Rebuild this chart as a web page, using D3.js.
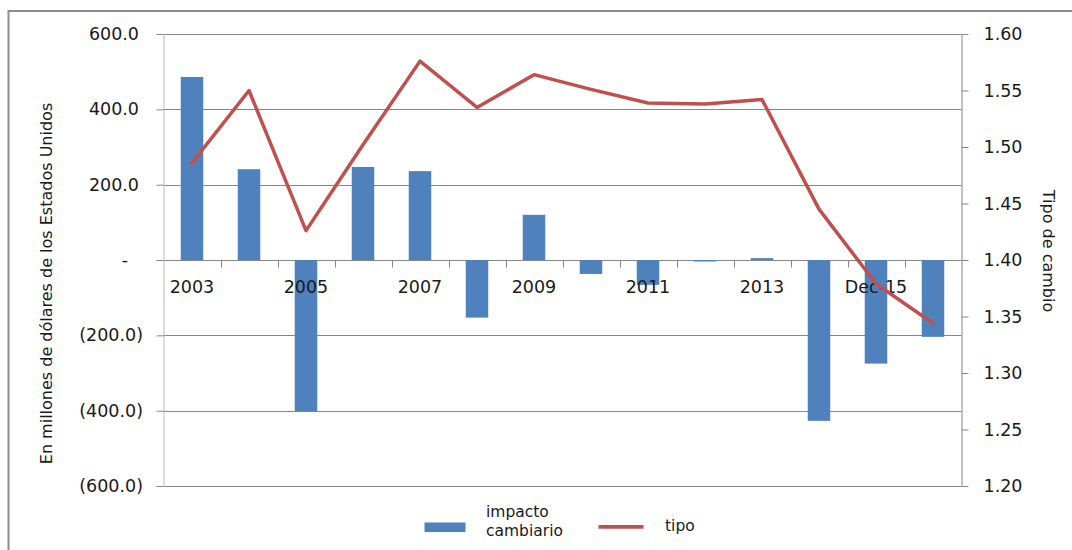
<!DOCTYPE html>
<html>
<head>
<meta charset="utf-8">
<script src="https://cdn.jsdelivr.net/npm/d3@7/dist/d3.min.js"></script>
<style>
  html, body { margin: 0; padding: 0; background: #fff; }
  svg { display: block; font-family: "DejaVu Sans", Verdana, sans-serif; }
</style>
</head>
<body>
<div id="chart"></div>
<script>
// categories and series
var years = ['2003', '2004', '2005', '2006', '2007', '2008', '2009', '2010',
  '2011', '2012', '2013', '2014', 'Dec-15', '2016'];
var impacto = [486, 241, -401, 247, 236, -153, 120, -37, -66, -4, 5, -427, -275, -204];
var tipo = [1.486, 1.550, 1.426, 1.502, 1.576, 1.535, 1.564, 1.551, 1.539, 1.538,
  1.542, 1.445, 1.379, 1.344];
var leftTicks = [-600, -400, -200, 0, 200, 400, 600];
var rightTicks = [1.20, 1.25, 1.30, 1.35, 1.40, 1.45, 1.50, 1.55, 1.60];

var W = 1072, H = 550;
var plot = {left: 163.5, right: 961.5, top: 34, bottom: 486};
var blue = '#4F81BD', red = '#C0504D', grid = '#868686';

var svg = d3.select('#chart').append('svg')
  .attr('width', W)
  .attr('height', H);

// outer chart frame
svg.append('rect')
  .attr('x', 8.5).attr('y', 11)
  .attr('width', 1100).attr('height', 600)
  .attr('fill', 'none')
  .attr('stroke', '#8c8c8c')
  .attr('stroke-width', 2);

var x = d3.scaleBand().domain(years).range([plot.left, plot.right]);
var yL = d3.scaleLinear().domain([-600, 600]).range([plot.bottom, plot.top]);
var yR = d3.scaleLinear().domain([1.2, 1.6]).range([plot.bottom, plot.top]);
var barW = x.bandwidth() * 0.395;

// horizontal gridlines
svg.append('g').selectAll('line')
  .data(leftTicks)
  .enter().append('line')
  .attr('x1', plot.left).attr('x2', plot.right)
  .attr('y1', function(d) { return Math.round(yL(d)) + 0.5; })
  .attr('y2', function(d) { return Math.round(yL(d)) + 0.5; })
  .attr('stroke', grid)
  .attr('stroke-width', 1);

// left axis
var fmt = d3.format('.1f');
var leftAxis = svg.append('g')
  .attr('transform', 'translate(' + plot.left + ',0)')
  .call(d3.axisLeft(yL).tickValues(leftTicks).tickSizeInner(7).tickSizeOuter(0)
    .tickFormat(function(d) {
      if (d === 0) return '-';
      return d < 0 ? '(' + fmt(-d) + ')' : fmt(d);
    }));
leftAxis.select('.domain').attr('stroke', '#b8b8b8');
leftAxis.selectAll('.tick line').attr('stroke', grid);
leftAxis.selectAll('.tick text')
  .attr('font-size', '17.5px')
  .attr('fill', '#1a1a1a')
  .attr('font-family', '"DejaVu Sans", Verdana, sans-serif')
  .attr('x', function(d) { return d === 0 ? -35.5 : (d < 0 ? -20.5 : -24.5); });

// right axis
var rightAxis = svg.append('g')
  .attr('transform', 'translate(' + plot.right + ',0)')
  .call(d3.axisRight(yR).tickValues(rightTicks).tickSizeInner(7).tickSizeOuter(0)
    .tickPadding(15).tickFormat(d3.format('.2f')));
rightAxis.select('.domain').attr('stroke', grid);
rightAxis.selectAll('.tick line').attr('stroke', grid);
rightAxis.selectAll('.tick text')
  .attr('font-size', '17.5px')
  .attr('fill', '#1a1a1a')
  .attr('font-family', '"DejaVu Sans", Verdana, sans-serif');

// bars
svg.append('g').selectAll('rect')
  .data(impacto)
  .enter().append('rect')
  .attr('x', function(d, i) { return x(years[i]) + (x.bandwidth() - barW) / 2; })
  .attr('y', function(d) { return yL(Math.max(0, d)); })
  .attr('width', barW)
  .attr('height', function(d) { return Math.abs(yL(d) - yL(0)); })
  .attr('fill', blue);

// category axis on the zero line, ticks at band edges
var y0 = Math.round(yL(0)) + 0.5;
svg.append('g').selectAll('line')
  .data(years.slice(1))
  .enter().append('line')
  .attr('x1', function(d) { return Math.round(x(d)) + 0.5; })
  .attr('x2', function(d) { return Math.round(x(d)) + 0.5; })
  .attr('y1', y0).attr('y2', y0 + 7)
  .attr('stroke', grid);

svg.append('g').selectAll('text')
  .data(years.filter(function(d, i) { return i % 2 === 0; }))
  .enter().append('text')
  .attr('x', function(d) { return x(d) + x.bandwidth() / 2; })
  .attr('y', 292.5)
  .attr('text-anchor', 'middle')
  .attr('font-size', '17.5px')
  .attr('fill', '#1a1a1a')
  .text(function(d) { return d; });

// exchange-rate line
var line = d3.line()
  .x(function(d, i) { return x(years[i]) + x.bandwidth() / 2; })
  .y(function(d) { return yR(d); });

svg.append('path')
  .datum(tipo)
  .attr('d', line)
  .attr('fill', 'none')
  .attr('stroke', red)
  .attr('stroke-width', 3.5)
  .attr('stroke-linejoin', 'round')
  .attr('stroke-linecap', 'round');

// axis titles
svg.append('text')
  .attr('transform', 'translate(46.5,283.5) rotate(-90)')
  .attr('text-anchor', 'middle')
  .attr('dominant-baseline', 'central')
  .attr('font-size', '16px')
  .attr('fill', '#1a1a1a')
  .text('En millones de dólares de los Estados Unidos');

svg.append('text')
  .attr('transform', 'translate(1048.5,251) rotate(90)')
  .attr('text-anchor', 'middle')
  .attr('dominant-baseline', 'central')
  .attr('font-size', '16px')
  .attr('fill', '#1a1a1a')
  .text('Tipo de cambio');

// legend
var legend = svg.append('g');
legend.append('rect')
  .attr('x', 424.5).attr('y', 522.5)
  .attr('width', 41).attr('height', 9.5)
  .attr('fill', blue);
legend.append('text')
  .attr('x', 486).attr('y', 517)
  .attr('font-size', '15.5px').attr('fill', '#1a1a1a')
  .text('impacto');
legend.append('text')
  .attr('x', 486).attr('y', 535.5)
  .attr('font-size', '15.5px').attr('fill', '#1a1a1a')
  .text('cambiario');
legend.append('line')
  .attr('x1', 598.5).attr('x2', 643.5)
  .attr('y1', 526.8).attr('y2', 526.8)
  .attr('stroke', red)
  .attr('stroke-width', 3.8);
legend.append('text')
  .attr('x', 665).attr('y', 531)
  .attr('font-size', '15.5px').attr('fill', '#1a1a1a')
  .text('tipo');
</script>
</body>
</html>
